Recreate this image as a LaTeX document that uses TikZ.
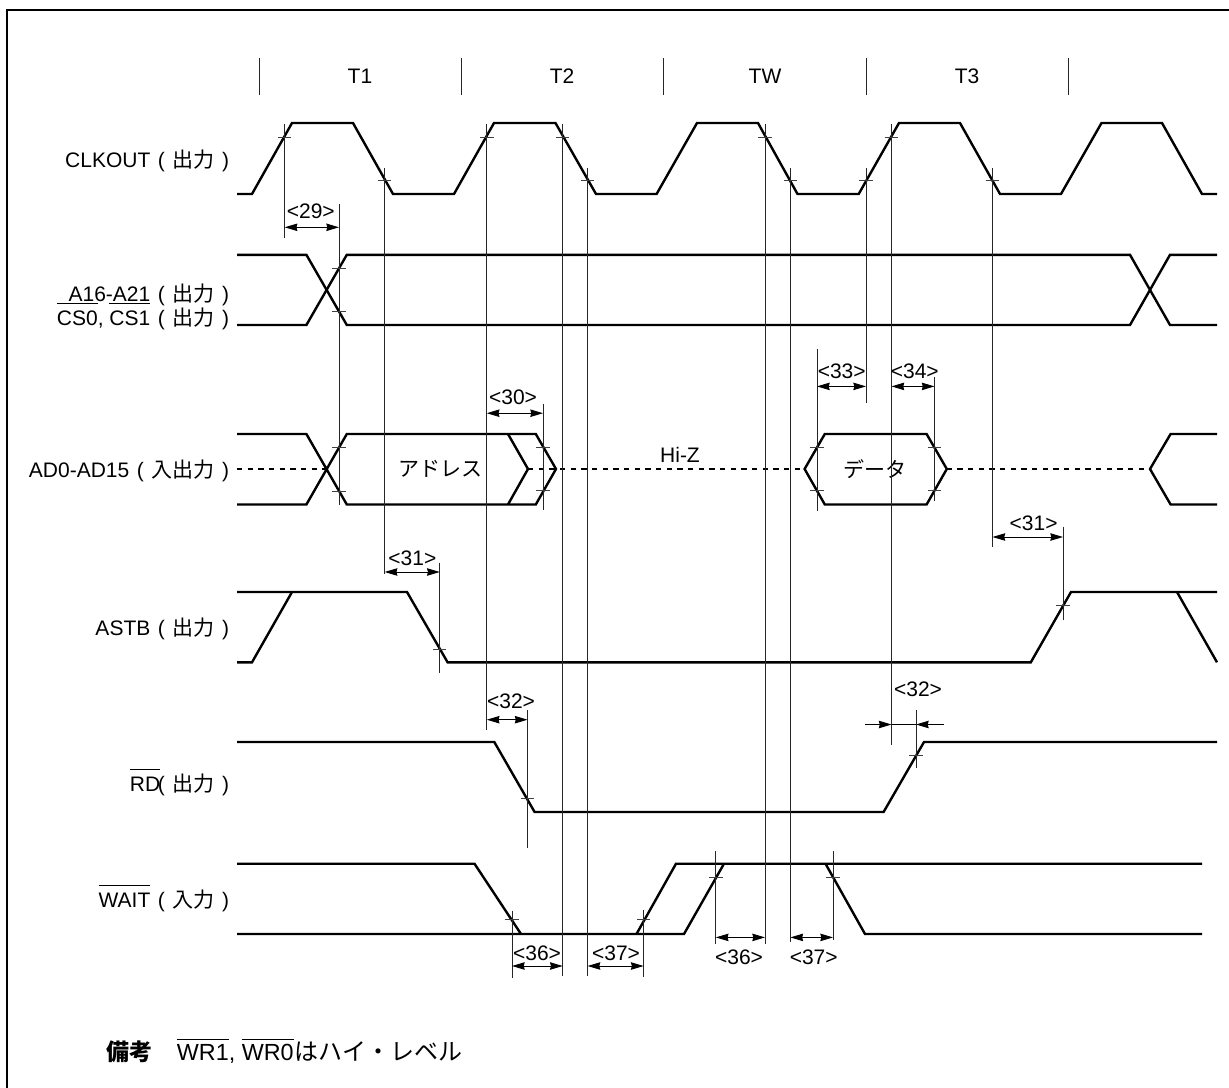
\documentclass[tikz,border=0pt]{standalone}
\usepackage{fontspec}
\setmainfont{Liberation Sans}
\newfontfamily\cjk{Noto Sans CJK JP}
\usetikzlibrary{arrows.meta}
\newlength{\barlen}
\newcommand{\barred}[1]{\settowidth{\barlen}{#1}\rlap{\rule[16pt]{\barlen}{0.6pt}}#1}
\newcommand{\dirn}[1]{\kern1.3pt(\kern1.3pt\ {\cjk #1}\ \kern1.3pt)}

\begin{document}
\begin{tikzpicture}[x=0.75pt, y=-0.75pt,
    every node/.style={font=\fontsize{15.75}{18}\selectfont, inner sep=0pt},
    sig/.style={line width=1.8pt, line join=miter, black},
    hiz/.style={line width=2pt, dash pattern=on 4pt off 4pt},
    guide/.style={line width=0.65pt, black!85},
    mark tick/.style={line width=0.65pt, black!75},
    dimline/.style={line width=0.65pt, {Stealth[length=9.5pt,width=5.6pt,inset=0.7pt]}-{Stealth[length=9.5pt,width=5.6pt,inset=0.7pt]}},
    outarrow/.style={line width=0.65pt, -{Stealth[length=9.5pt,width=5.6pt,inset=0.7pt]}},
    lab/.style={anchor=base east}]
  \useasboundingbox (0,0) rectangle (1229,1088);
  % frame, open on two sides
  \draw[line width=1.5pt] (7,1088) -- (7,10.3) -- (1229,10.3);

  % state boundaries
  \foreach \x in {259,461.5,663.7,866,1068.7}
    \draw[guide] (\x,58) -- (\x,95.5);
  \foreach \x/\s in {360/T1,562/T2,765/TW,967/T3}
    \node (state\s) at (\x,76.5) {\s};

  % signal names
  \node[lab] (clkoutLabel) at (229.3,167) {CLKOUT \dirn{出力}};
  \node[lab] (addrLabel) at (229.3,301) {A16-A21 \dirn{出力}};
  \node[lab] (csLabel) at (229.3,325.4) {\barred{CS0}, \barred{CS1} \dirn{出力}};
  \node[lab] (adLabel) at (229.3,477) {AD0-AD15 \dirn{入出力}};
  \node[lab] (astbLabel) at (229.3,635.4) {ASTB \dirn{出力}};
  \node[lab] (rdLabel) at (229.3,791) {\barred{RD}\kern-3pt\dirn{出力}};
  \node[lab] (waitLabel) at (229.3,907) {\barred{WAIT} \dirn{入力}};

  % CLKOUT
  \draw[sig] (237,194) -- (252,194) -- (292,123) -- (353,123) -- (393,194) -- (454,194)
    -- (494,123) -- (555.5,123) -- (596,194) -- (656.6,194) -- (697,123) -- (758,123)
    -- (797.5,194) -- (858.7,194) -- (899,123) -- (960,123) -- (1000,194) -- (1061,194)
    -- (1101.5,123) -- (1162,123) -- (1202,194) -- (1217,194);

  % A16-A21, CS
  \draw[sig] (237,254.8) -- (306.4,254.8) -- (346.8,325) -- (1130,325) -- (1170,254.8) -- (1217,254.8);
  \draw[sig] (237,325) -- (306.4,325) -- (346.8,254.8) -- (1130,254.8) -- (1170,325) -- (1217,325);

  % AD0-AD15
  \draw[sig] (237,434) -- (306.4,434) -- (346.8,504.5) -- (535.8,504.5) -- (556,469) -- (535.8,434) -- (346.8,434)
    -- (306.4,504.5) -- (237,504.5);
  \draw[sig] (508,434) -- (528,469) -- (508,504.5);
  \draw[sig] (1217,434) -- (1170.6,434) -- (1150,469) -- (1170.6,504.5) -- (1217,504.5);
  \draw[sig] (824.8,434) -- (926.6,434) -- (946.8,469) -- (926.6,504.5) -- (824.8,504.5) -- (804.6,469) -- cycle;
  \draw[hiz] (237,469) -- (326,469);
  \draw[hiz] (528,469) -- (804.6,469);
  \draw[hiz] (946.8,469) -- (1150,469);
  \node (addressText) at (440,469) {\cjk アドレス};
  \node (dataText) at (875,469) {\cjk データ};
  \node (hizText) at (680,454.5) {Hi-Z};

  % ASTB
  \draw[sig] (237,662.3) -- (252,662.3) -- (292,592);
  \draw[sig] (237,592) -- (407,592) -- (447.6,662.3) -- (1030.8,662.3) -- (1071,592) -- (1217,592);
  \draw[sig] (1177,592) -- (1217,662.3);

  % RD
  \draw[sig] (237,742) -- (494.3,742) -- (534.6,812) -- (883.6,812) -- (924,742) -- (1217,742);

  % WAIT
  \draw[sig] (237,863.7) -- (474.5,863.7) -- (521,934);
  \draw[sig] (237,934) -- (684,934) -- (724,863.7);
  \draw[sig] (636.5,934) -- (676,863.7) -- (1202,863.7);
  \draw[sig] (825.5,863.7) -- (865,934) -- (1202,934);

  % timing guide lines
  \foreach \x/\ya/\yb in {284.7/124/237.6, 339/204/504.5, 384.7/168/574, 486.8/124/730,
      562.7/124/976, 587.6/168/976, 765/124/944, 790.4/168/942, 866/168/403,
      891.5/124/745, 992.5/168/547, 817/349/511, 934.5/377/501, 1063/527/620,
      543/403.6/509.6, 439.7/562.7/673, 527.5/710/847.6, 916/710/768,
      512/910.5/977.6, 643.6/910/977, 715.8/851/943.7, 833/851/940}
    \draw[guide] (\x,\ya) -- (\x,\yb);

  % crossing marks
  \foreach \x/\y in {284.7/137.3, 384.7/180.4, 486.8/137.3, 562.7/137.3, 587.6/180.4,
      765/137.3, 790.4/180.4, 866/180.4, 891.5/137.3, 992.5/180.4,
      339/268, 339/311, 339/447.6, 339/491, 543/447.6, 543/490.7,
      817/447.6, 817/490.7, 934.5/447.6, 934.5/490.7,
      439.7/649.4, 1063/605.4, 527.5/798.7, 916/755.3,
      512/919.6, 643.6/919.6, 715.8/877.3, 833/877.3}
    \draw[mark tick] (\x-6.7,\y) -- (\x+6.7,\y);

  % delay arrows and their numbers
  \foreach \xa/\xb/\y/\tx/\ty/\s [count=\n] in {284.7/339/227.3/310.8/211/29,
      486.8/543/413.2/513/397.7/30, 817/866/386.4/841.7/370.9/33,
      891.5/934.5/386.4/914.8/370.9/34, 992.5/1063/537/1033.6/523/31,
      384.7/439.7/572/412.4/558/31, 486.8/527.5/719.7/511/700.8/32,
      512/562.7/966/537/952.8/36, 587.6/643.6/966/616/952.8/37,
      715.8/765/937.4/739/957.7/36, 790.4/833/937.4/813.7/957.7/37}
  {
    \draw[dimline] (\xa,\y) -- (\xb,\y);
    \node (delay\n) at (\tx,\ty) {<\s>};
  }
  \node (delayRise) at (918,689.6) {<32>};
  \draw[outarrow] (865.4,724.5) -- (891.5,724.5);
  \draw[outarrow] (943.6,724.5) -- (916,724.5);
  \draw[line width=0.65pt] (891.5,724.5) -- (916,724.5);

  % remark
  \node[anchor=base west, font=\fontsize{17.25}{20}\selectfont\cjk\bfseries] (remarkHead) at (106,1060.8) {備考};
  \node[anchor=base west, font=\fontsize{17.5}{20}\selectfont] (remarkText) at (176.7,1060.8)
    {\barred{WR1}, \barred{WR0}\kern1pt{\cjk\fontsize{18}{20}\selectfont はハイ・レベル}};
\end{tikzpicture}
\end{document}
